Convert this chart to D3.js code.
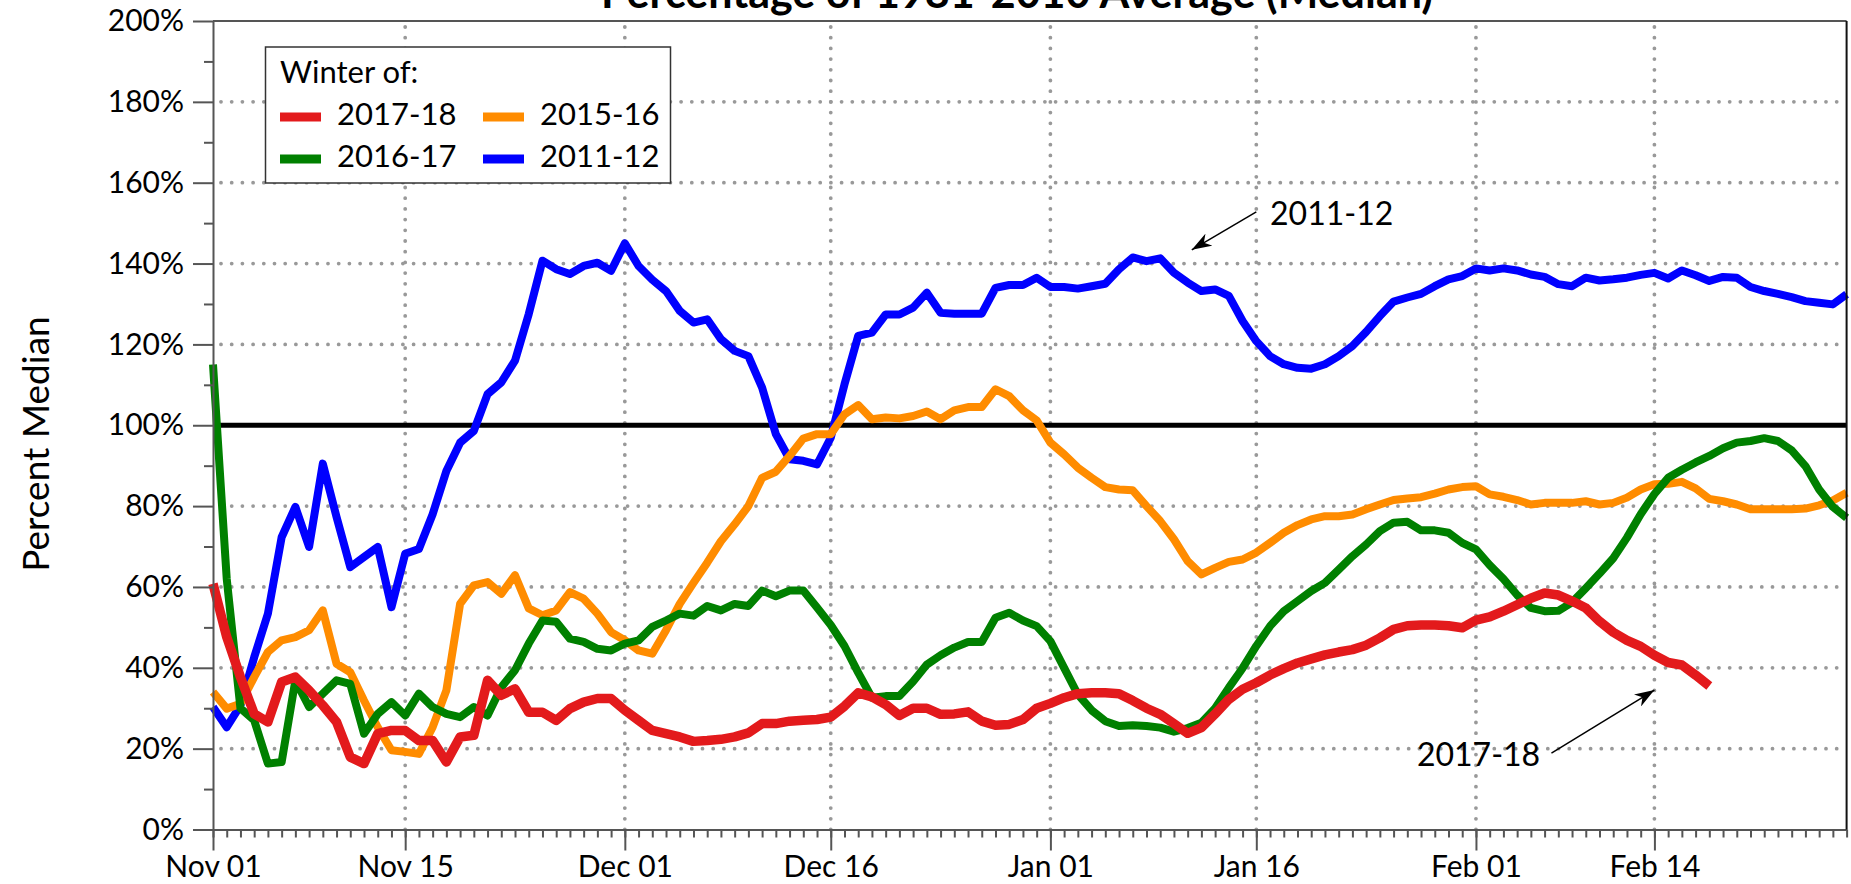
<!DOCTYPE html>
<html>
<head>
<meta charset="utf-8">
<script src="https://cdn.jsdelivr.net/npm/d3@7"></script>
<style>
  body { margin: 0; background: #fff; }
  svg { display: block; font-family: Lato, "Open Sans", sans-serif; }
</style>
</head>
<body>
<svg id="chart"></svg>
<script>
// percent of 1981-2010 median, one value per day starting Nov 01
const winter2011_12 = [30.3, 25.3, 30.7, 42.6, 53.4, 72.3, 79.8, 69.9, 90.5, 77.3, 64.9, 67.4, 69.9, 55, 68.2, 69.4, 78, 88.7, 95.7, 98.6,
  107.7, 110.6, 116, 127.5, 140.7, 138.6, 137.4, 139.4, 140.2, 138.2, 145, 139.4, 136, 133.2, 128.3, 125.4, 126.2, 121.3, 118.4, 117.1,
  109.3, 97.8, 91.6, 91.2, 90.3, 96.9, 110.1, 122.1, 122.9, 127.4, 127.4, 129.1, 132.8, 127.8, 127.6, 127.6, 127.6, 134, 134.7, 134.7,
  136.5, 134.2, 134.2, 133.8, 134.4, 135, 138.6, 141.5, 140.6, 141.3, 137.7, 135.3, 133.2, 133.6, 132, 125.8, 120.8, 117.1, 115.1, 114.2,
  114, 115.1, 117.1, 119.6, 123.1, 127, 130.6, 131.6, 132.5, 134.4, 136.1, 136.9, 138.8, 138.3, 138.8, 138.3, 137.3, 136.7, 134.9, 134.4,
  136.5, 135.8, 136.1, 136.5, 137.2, 137.7, 136.3, 138.3, 137.1, 135.7, 136.7, 136.5, 134.2, 133.2, 132.5, 131.7, 130.7, 130.3, 129.9, 132.4];

const winter2015_16 = [34, 29.9, 31.1, 37.7, 43.9, 46.8, 47.6, 49.3, 54.2, 41, 38.9, 31.9, 25.3, 19.6, 19.2, 18.7, 25.3, 34.4, 55.8, 60.4,
  61.2, 58.3, 62.9, 54.7, 53, 54.2, 58.7, 57.1, 53.4, 48.8, 46.8, 44.3, 43.5, 49.3, 55.8, 61, 66, 71.3, 75.5, 80,
  87, 88.5, 92.4, 96.7, 97.8, 97.8, 102.7, 105, 101.5, 101.9, 101.7, 102.3, 103.4, 101.5, 103.7, 104.5, 104.5, 108.9, 107.2, 103.7,
  101.2, 95.7, 92.8, 89.5, 87, 84.7, 84.1, 83.9, 80, 76.3, 71.8, 66.4, 63.1, 64.7, 66.2, 66.8, 68.5, 70.9, 73.4, 75.3,
  76.7, 77.5, 77.5, 77.9, 79.2, 80.4, 81.5, 81.9, 82.2, 83.1, 84.1, 84.7, 84.9, 82.9, 82.3, 81.5, 80.4, 80.8, 80.8, 80.8,
  81.2, 80.4, 80.8, 82.1, 84.1, 85.4, 85.5, 86, 84.4, 81.8, 81.2, 80.4, 79.2, 79.2, 79.2, 79.2, 79.4, 80.2, 81.4, 83.3];

const winter2016_17 = [115, 62, 30, 27, 16.3, 16.7, 36.9, 30.3, 33.6, 36.9, 36, 23.7, 28.6, 31.5, 28.2, 33.6, 30.3, 28.6, 27.8, 30.3,
  28.2, 35.2, 39.4, 46, 51.7, 51.4, 47.2, 46.4, 44.7, 44.3, 46, 46.8, 50.1, 51.7, 53.4, 52.9, 55.3, 54.2, 55.8, 55.3,
  59.1, 57.7, 59.1, 59.1, 54.9, 50.6, 45.4, 38.8, 32.6, 33, 33, 36.6, 40.8, 43.1, 45, 46.4, 46.4, 52.4, 53.6, 51.7,
  50.3, 46.6, 40, 33.4, 29.5, 26.8, 25.6, 25.8, 25.6, 25.2, 24.2, 25.1, 26.4, 30, 35.1, 39.9, 45.4, 50.3, 54, 56.5,
  59, 61, 64.3, 67.6, 70.5, 73.8, 75.9, 76.1, 74, 74, 73.4, 70.9, 69.3, 65.4, 62, 58, 54.8, 54, 54.1, 56.2,
  59.7, 63.3, 67.1, 72.2, 78, 83, 87, 89, 90.8, 92.4, 94.3, 95.7, 96.1, 96.8, 96.1, 93.8, 89.9, 84.1, 79.8, 77.1];

const winter2017_18 = [60.8, 47.6, 37.7, 28.6, 26.6, 36.5, 37.7, 34.4, 30.7, 26.6, 17.9, 16.3, 23.7, 24.5, 24.5, 22, 22, 16.7, 22.9, 23.3,
  36.9, 33.2, 34.8, 29, 29, 27, 29.9, 31.5, 32.4, 32.4, 29.5, 27, 24.5, 23.7, 22.9, 21.8, 22, 22.3, 22.9, 23.9,
  26.2, 26.2, 26.8, 27, 27.2, 27.8, 30.5, 33.8, 32.8, 30.9, 28.2, 30, 30, 28.5, 28.6, 29.1, 26.8, 25.8, 26, 27.2,
  30, 31.2, 32.6, 33.6, 33.8, 33.8, 33.6, 31.9, 30, 28.5, 26.2, 23.8, 25.2, 28.6, 32.2, 34.7, 36.3, 38.2, 39.8, 41.2,
  42.2, 43.2, 43.9, 44.5, 45.6, 47.4, 49.5, 50.4, 50.6, 50.6, 50.4, 49.9, 51.8, 52.6, 54, 55.6, 57.2, 58.5, 58, 56.5,
  54.8, 51.5, 48.8, 46.8, 45.3, 43.1, 41.3, 40.7, 38.2, 35.5];

const seasonNames = ["2011-12", "2015-16", "2016-17", "2017-18"];
const seasonColors = ["#0000ff", "#ff8c00", "#008000", "#e31a1c"];
const legendOrder = ["2017-18", "2015-16", "2016-17", "2011-12"];

const yTickValues = [0, 20, 40, 60, 80, 100, 120, 140, 160, 180, 200];
const xTickLabels = ["Nov 01", "Nov 15", "Dec 01", "Dec 16", "Jan 01", "Jan 16", "Feb 01", "Feb 14"];
const xTickDayOffsets = [0, 14, 30, 45, 61, 76, 92, 105];
const lastDay = 119;

const annotations = [
  { label: "2011-12", textDay: 77, textValue: 149.5, fromDay: 76, fromValue: 152.8, toDay: 71.3, toValue: 143.4 },
  { label: "2017-18", textDay: 87.7, textValue: 15.7, fromDay: 97.5, fromValue: 18.9, toDay: 105, toValue: 34.5 }
];

const W = 1851, H = 884;
const plotL = 213, plotR = 1846.6, plotT = 21, plotB = 829.5;
const start = new Date(2017, 10, 1);

const svg = d3.select("#chart").attr("width", W).attr("height", H);
svg.append("rect").attr("width", W).attr("height", H).attr("fill", "white");

const x = d3.scaleTime().domain([start, d3.timeDay.offset(start, lastDay)]).range([plotL, plotR]);
const y = d3.scaleLinear().domain([0, 200]).range([plotB, plotT]);
const dayX = d => x(new Date(start.getTime() + d * 864e5));

const seriesData = [winter2011_12, winter2015_16, winter2016_17, winter2017_18];
const colorOf = d3.scaleOrdinal(seasonNames, seasonColors);

// dotted grid
const grid = svg.append("g")
    .attr("stroke", "#999").attr("stroke-width", 3.8)
    .attr("stroke-linecap", "round").attr("stroke-dasharray", "0,10.7");
grid.selectAll("line.h")
    .data(yTickValues.filter(v => v > 0 && v < 200 && v !== 100))
    .join("line").attr("class", "h")
        .attr("x1", plotL + 8).attr("x2", plotR)
        .attr("y1", d => y(d)).attr("y2", d => y(d));
grid.selectAll("line.v")
    .data(xTickDayOffsets.slice(1))
    .join("line").attr("class", "v")
        .attr("x1", d => dayX(d)).attr("x2", d => dayX(d))
        .attr("y1", plotT + 6).attr("y2", plotB);

// 100% reference
svg.append("line")
    .attr("x1", plotL).attr("x2", plotR)
    .attr("y1", y(100)).attr("y2", y(100))
    .attr("stroke", "black").attr("stroke-width", 5);

// legend box (sits over the grid)
const legend = svg.append("g");
legend.append("rect")
    .attr("x", 265.5).attr("y", 47).attr("width", 405).attr("height", 136)
    .attr("fill", "white").attr("stroke", "#333").attr("stroke-width", 1.5);
legend.append("text").attr("x", 280).attr("y", 83)
    .attr("font-size", 31).text("Winter of:");
legendOrder.forEach((name, i) => {
    const col = i % 2, row = Math.floor(i / 2);
    const lx = 280 + col * 203, ly = 125 + row * 42;
    legend.append("line")
        .attr("x1", lx).attr("x2", lx + 41)
        .attr("y1", ly - 8).attr("y2", ly - 8)
        .attr("stroke", colorOf(name)).attr("stroke-width", 9);
    legend.append("text").attr("x", lx + 57).attr("y", ly)
        .attr("font-size", 31).text(name);
});

// series
const line = d3.line()
    .x((v, i) => dayX(i))
    .y(v => y(v));
svg.append("g").selectAll("path")
    .data(seriesData)
    .join("path")
        .attr("d", line)
        .attr("fill", "none")
        .attr("stroke", (d, i) => seasonColors[i])
        .attr("stroke-width", (d, i) => seasonNames[i] === "2017-18" ? 9.5 : 8)
        .attr("stroke-linejoin", "round");

// axes
const yAxis = svg.append("g").attr("transform", `translate(${plotL},0)`)
    .call(d3.axisLeft(y).tickValues(yTickValues).tickSize(20).tickSizeOuter(0)
        .tickPadding(9).tickFormat(d => d + "%"));
svg.append("g").attr("transform", `translate(${plotL},0)`)
    .call(d3.axisLeft(y).tickValues(d3.range(10, 200, 20)).tickSize(9).tickFormat(""))
    .call(g => g.select(".domain").remove());

const xAxis = svg.append("g").attr("transform", `translate(0,${plotB})`)
    .call(d3.axisBottom(x).tickValues(xTickDayOffsets.map(d => d3.timeDay.offset(start, d)))
        .tickSize(21).tickSizeOuter(0).tickPadding(5)
        .tickFormat((d, i) => xTickLabels[i]));
svg.append("g").attr("transform", `translate(0,${plotB})`)
    .call(d3.axisBottom(x).tickValues(d3.timeDay.range(start, d3.timeDay.offset(start, lastDay + 1)))
        .tickSize(8).tickFormat(""))
    .call(g => g.select(".domain").remove());

svg.selectAll(".tick line, .domain").attr("stroke", "#555").attr("stroke-width", 2);
yAxis.selectAll("text").attr("font-size", 30).attr("fill", "black");
xAxis.selectAll("text").attr("font-size", 30).attr("fill", "black");
svg.selectAll("g[font-family]").attr("font-family", null);

// frame top and right
svg.append("line").attr("x1", plotL).attr("x2", plotR).attr("y1", plotT).attr("y2", plotT)
    .attr("stroke", "#555").attr("stroke-width", 2);
svg.append("line").attr("x1", plotR).attr("x2", plotR).attr("y1", plotT).attr("y2", plotB)
    .attr("stroke", "#111").attr("stroke-width", 2);

// annotations
svg.append("defs").append("marker")
    .attr("id", "head").attr("markerUnits", "userSpaceOnUse")
    .attr("viewBox", "-20 -7 21 14").attr("refX", 0).attr("refY", 0)
    .attr("markerWidth", 21).attr("markerHeight", 14).attr("orient", "auto")
  .append("path").attr("d", "M0,0 L-20,-7 L-14,0 L-20,7 Z").attr("fill", "black");

const notes = svg.append("g").selectAll("g").data(annotations).join("g");
notes.append("line")
    .attr("x1", d => dayX(d.fromDay)).attr("y1", d => y(d.fromValue))
    .attr("x2", d => dayX(d.toDay)).attr("y2", d => y(d.toValue))
    .attr("stroke", "black").attr("stroke-width", 1.5)
    .attr("marker-end", "url(#head)");
notes.append("text")
    .attr("x", d => dayX(d.textDay)).attr("y", d => y(d.textValue))
    .attr("font-size", 32).text(d => d.label);

// titles
svg.append("text")
    .attr("transform", "translate(34,444) rotate(-90)")
    .attr("text-anchor", "middle").attr("dominant-baseline", "central")
    .attr("font-size", 37).text("Percent Median");
svg.append("text")
    .attr("x", 1017).attr("y", 8)
    .attr("text-anchor", "middle").attr("font-weight", "bold")
    .attr("font-size", 43).text("Percentage of 1981-2010 Average (Median)");
</script>
</body>
</html>
